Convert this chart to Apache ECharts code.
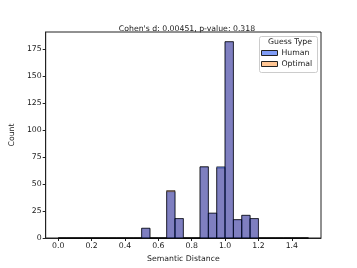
<!DOCTYPE html>
<html><head><meta charset="utf-8">
<script src="https://cdn.jsdelivr.net/npm/echarts@6/dist/echarts.min.js"></script>
<style>html,body{margin:0;padding:0;background:#fff}#c{width:357px;height:268px}</style>
</head><body><div id="c"></div>
<script>
const binStarts = [0.00,0.05,0.10,0.15,0.20,0.25,0.30,0.35,0.40,0.45,0.50,0.55,0.60,0.65,0.70,0.75,0.80,0.85,0.90,0.95,1.00,1.05,1.10,1.15,1.20,1.25,1.30,1.35,1.40,1.45];
const binWidth = 0.05;
const humanCounts   = [0,0,0,0,0,0,0,0,0,0, 9,0,0,43,18,0,0,66,23,66, 182,17,21,18,0,0,0,0,0,0];
const optimalCounts = [0,0,0,0,0,0,0,0,0,0, 9,0,0,44,18,0,0,66,23,65, 182,17,21,18,0,0,0,0,0,0];
const xTicks = [0.0,0.2,0.4,0.6,0.8,1.0,1.2,1.4];
const yTicks = [0,25,50,75,100,125,150,175];
const title = "Cohen's d: 0.00451, p-value: 0.318";
const humanColor = 'rgba(0,57,237,0.5)';
const optimalColor = 'rgba(255,140,40,0.5)';

function mk(counts){ return binStarts.map((s,i)=>[s, s+binWidth, counts[i]]); }
function render(color){
  return function(params, api){
    const a = api.coord([api.value(0), 0]);
    const b = api.coord([api.value(1), api.value(2)]);
    return {type:'rect', shape:{x:a[0], y:b[1], width:b[0]-a[0], height:a[1]-b[1]},
      style:{fill:color, stroke:'rgba(0,0,0,0.55)', lineWidth:1}};
  };
}
const font = 'DejaVu Sans';
const fs = 7.75;
const chart = echarts.init(document.getElementById('c'));
chart.setOption({
  animation:false,
  textStyle:{fontFamily:font},
  title:{text:title, left:182, top:20, textAlign:'center',
    textStyle:{fontSize:fs, fontWeight:'normal', color:'#1a1a1a', fontFamily:font}},
  grid:{left:44, right:36, top:32, bottom:30, show:true, borderColor:'#222', borderWidth:1, backgroundColor:'transparent'},
  xAxis:{type:'value', min:-0.075, max:1.575,
    name:'Semantic Distance', nameLocation:'middle', nameGap:15,
    nameTextStyle:{fontSize:fs, color:'#1a1a1a', fontFamily:font},
    splitLine:{show:false},
    axisLine:{show:true, onZero:false, lineStyle:{color:'#222', width:1}},
    axisTick:{show:true, length:3, lineStyle:{color:'#222'}, customValues:xTicks},
    axisLabel:{fontSize:fs, color:'#1a1a1a', margin:4, customValues:xTicks,
      formatter:v=>v.toFixed(1), fontFamily:font}},
  yAxis:{type:'value', min:0, max:191,
    name:'Count', nameLocation:'middle', nameGap:20,
    nameTextStyle:{fontSize:fs, color:'#1a1a1a', fontFamily:font},
    splitLine:{show:false},
    axisLine:{show:true, onZero:false, lineStyle:{color:'#222', width:1}},
    axisTick:{show:true, length:3, lineStyle:{color:'#222'}, customValues:yTicks},
    axisLabel:{fontSize:fs, color:'#1a1a1a', margin:4, customValues:yTicks, fontFamily:font}},
  legend:{orient:'vertical', left:261, top:49, itemWidth:16, itemHeight:5, itemGap:3,
    icon:'rect', z:20, padding:0,
    textStyle:{fontSize:fs, color:'#1a1a1a', fontFamily:font, padding:[0,0,0,-1]},
    inactiveColor:'#222',
    data:[
      {name:'Human', itemStyle:{color:humanColor, borderColor:'#222', borderWidth:1}},
      {name:'Optimal', itemStyle:{color:optimalColor, borderColor:'#222', borderWidth:1}}
    ]},
  graphic:[
    {type:'rect', left:259, top:36, shape:{width:58, height:36, r:2}, style:{fill:'rgba(255,255,255,0.8)', stroke:'#ccc', lineWidth:1}, z:4},
    {type:'text', left:268, top:38, style:{text:'Guess Type', fontSize:fs, fill:'#1a1a1a', fontFamily:font}, z:21}
  ],
  series:[
    {name:'Optimal', type:'custom', renderItem:render(optimalColor), data:mk(optimalCounts),
      itemStyle:{color:optimalColor}, encode:{x:[0,1], y:2}, z:2},
    {name:'Human', type:'custom', renderItem:render(humanColor), data:mk(humanCounts),
      itemStyle:{color:humanColor}, encode:{x:[0,1], y:2}, z:3}
  ]
});
</script></body></html>
